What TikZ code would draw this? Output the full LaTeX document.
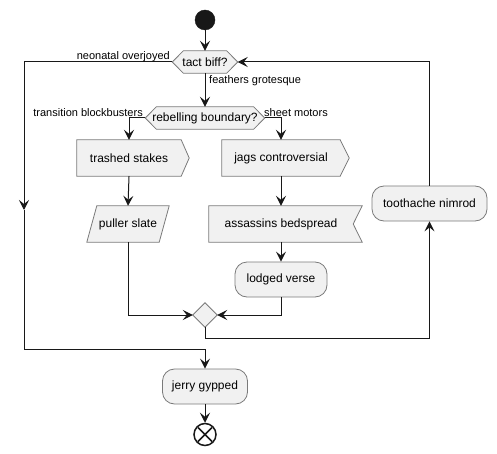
\documentclass[tikz,border=0pt]{standalone}
\usepackage{fontspec}
\setmainfont{Liberation Sans}
\usetikzlibrary{arrows.meta,calc,backgrounds}
\definecolor{boxfill}{HTML}{F1F1F1}
\definecolor{ink}{HTML}{181818}
\definecolor{edge}{HTML}{7A7A7A}
\begin{document}
\begin{tikzpicture}[x=1pt,y=-1pt,
  tip/.style={-{Stealth[length=10pt,width=10pt,inset=4pt]}},
  flow/.style={draw=ink, line width=1pt, tip},
  wire/.style={draw=ink, line width=1pt},
  outline/.style={draw=edge, line width=0.8pt, fill=boxfill},
  plain/.style={inner sep=0pt, font=\fontsize{12}{14}\selectfont},
  lbl/.style={inner sep=0pt, font=\fontsize{11}{13}\selectfont},
  action/.style={outline, rounded corners=12pt, inner sep=0pt,
    minimum height=35pt, font=\fontsize{12}{14}\selectfont},
  startdot/.style={circle, fill=ink, draw=ink, minimum size=20pt, inner sep=0pt},
  stopdot/.style={circle, draw=ink, line width=1.5pt, fill=white, minimum size=22pt, inner sep=0pt}]
\useasboundingbox (0,0) rectangle (497,454);

% ---- nodes ----
\node[startdot] (start) at (205,20) {};
\node[plain, minimum width=65pt, minimum height=22pt] (tb) at (205,62) {tact biff?};
\node[plain, minimum width=119pt, minimum height=22pt] (rb) at (205,118) {rebelling boundary?};
\node[plain, minimum width=104pt, minimum height=36pt] (ts) at (129,158) {trashed stakes};
\node[plain, minimum width=72pt, minimum height=36pt] (ps) at (128,224) {puller slate};
\node[plain, minimum width=118pt, minimum height=36pt] (jc) at (281,158) {jags controversial};
\node[plain, minimum width=144pt, minimum height=36pt] (ab) at (281,224) {assassins bedspread};
\node[action, minimum width=92pt] (lv) at (281,279.5) {lodged verse};
\node[action, minimum width=115pt] (tn) at (429.5,203.5) {toothache nimrod};
\node[inner sep=0pt, minimum width=24pt, minimum height=24pt] (mg) at (205,315) {};
\node[action, minimum width=85pt] (jg) at (205,386.5) {jerry gypped};
\node[stopdot] (stop) at (205,434.5) {};
\draw[ink, line width=1.5pt] ($(stop.center)+(-7,-7)$) -- ($(stop.center)+(7,7)$)
                               ($(stop.center)+(-7,7)$) -- ($(stop.center)+(7,-7)$);

% ---- shaped outlines behind the texts ----
\begin{scope}[on background layer]
  \draw[outline] (tb.west) -- ($(tb.north west)+(11,0)$) -- ($(tb.north east)+(-11,0)$)
    -- (tb.east) -- ($(tb.south east)+(-11,0)$) -- ($(tb.south west)+(11,0)$) -- cycle;
  \draw[outline] (rb.west) -- ($(rb.north west)+(11,0)$) -- ($(rb.north east)+(-11,0)$)
    -- (rb.east) -- ($(rb.south east)+(-11,0)$) -- ($(rb.south west)+(11,0)$) -- cycle;
  \draw[outline] (ts.north west) -- (ts.north east) -- ($(ts.east)+(8,0)$)
    -- (ts.south east) -- (ts.south west) -- cycle;
  \draw[outline] (jc.north west) -- (jc.north east) -- ($(jc.east)+(9,0)$)
    -- (jc.south east) -- (jc.south west) -- cycle;
  \draw[outline] (ab.north west) -- ($(ab.north east)+(9,0)$) -- (ab.east)
    -- ($(ab.south east)+(9,0)$) -- (ab.south west) -- cycle;
  \draw[outline] ($(ps.north west)+(5,0)$) -- ($(ps.north east)+(5,0)$)
    -- ($(ps.south east)+(-5,0)$) -- ($(ps.south west)+(-5,0)$) -- cycle;
  \draw[outline] (mg.west) -- (mg.north) -- (mg.east) -- (mg.south) -- cycle;
\end{scope}

% ---- bend points ----
\coordinate (lTop) at (24,62);
\coordinate (lMid) at (24,210);
\coordinate (lBot) at (24,349);
\coordinate (rBot) at (205,338);

% ---- connectors ----
\draw[flow] (start) -- (tb.north);
\draw[flow] (tb.west) -- (lTop) -- (lMid);
\draw[flow] (lMid) -- (lBot) -| (jg.north);
\draw[flow] (tb.south) -- (rb.north);
\draw[flow] (rb.west) -| (ts.north);
\draw[flow] (rb.east) -| (jc.north);
\draw[flow] (ts.south) -- (ps.north);
\draw[flow] (ps.south) |- (mg.west);
\draw[flow] (jc.south) -- (ab.north);
\draw[flow] (ab.south) -- (lv.north);
\draw[flow] (lv.south) |- (mg.east);
\draw[flow] (mg.south) -- (rBot) -| (tn.south);
\draw[flow] (tn.north) |- (tb.east);
\draw[flow] (jg.south) -- (stop.north);

% ---- branch labels ----
\node[lbl, anchor=base east] (l1) at (170,60) {neonatal overjoyed};
\node[lbl, anchor=base west] (l2) at (209,84) {feathers grotesque};
\node[lbl, anchor=base east] (l3) at (143,117) {transition blockbusters};
\node[lbl, anchor=base west] (l4) at (264,117) {sheet motors};
\end{tikzpicture}
\end{document}
